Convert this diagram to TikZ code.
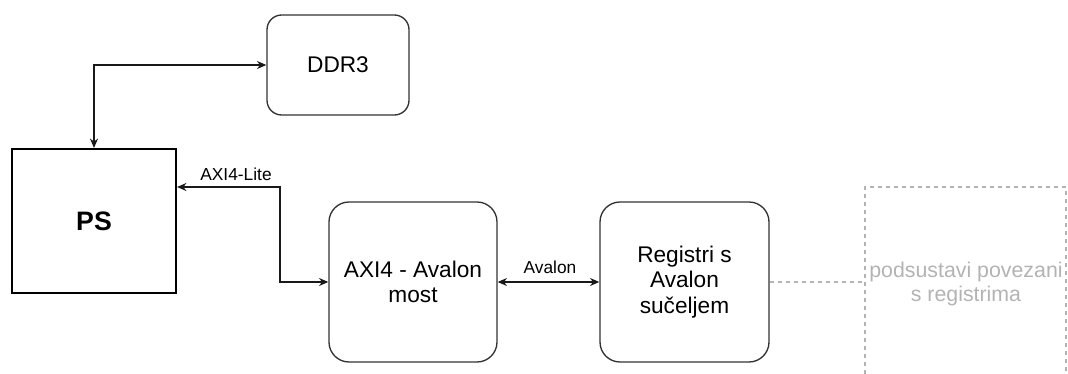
\documentclass[tikz,border=0pt]{standalone}
\usepackage{fontspec}
\setmainfont{Liberation Sans}
\usetikzlibrary{arrows.meta}
\definecolor{faint}{HTML}{B3B3B3}
\tikzset{
  blk/.style={draw=black!80, line width=1pt, rounded corners=15pt, align=center, font=\fontsize{17}{19}\selectfont, inner sep=0pt},
  conn/.style={draw=black!90, line width=1pt, {Stealth[length=7pt,width=6pt]}-{Stealth[length=7pt,width=6pt]}},
  lbl/.style={font=\fontsize{13}{15}\selectfont, anchor=base, inner sep=0pt},
  ghost/.style={draw=faint, line width=0.8pt, dash pattern=on 3pt off 3pt},
}
\begin{document}
\begin{tikzpicture}[x=0.75pt,y=-0.75pt]
\useasboundingbox (0,0) rectangle (1068,374);
\node[blk, rounded corners=11pt, minimum width=106.5pt, minimum height=75pt] (ddr) at (338,65) {DDR3};
\node[draw=black, line width=1.6pt, minimum width=123pt, minimum height=108pt, inner sep=0pt, font=\fontsize{20}{22}\selectfont\bfseries] (ps) at (94,221) {PS};
\node[blk, minimum width=126pt, minimum height=120pt] (axi) at (413,282) {AXI4 - Avalon\\most};
\node[blk, minimum width=126.75pt, minimum height=120pt] (reg) at (684.5,282) {Registri s\\Avalon\\sučeljem};
\node[text=faint, align=center, font=\fontsize{16}{17.5}\selectfont, inner sep=0pt] (sub) at (966,284) {podsustavi povezani\\s registrima};
\coordinate (subw) at (865,282);
% dashed box (partly outside the picture)
\draw[ghost] (865,390) |- (1066,187) -- (1066,390);
\draw[ghost] (reg.east) -- (subw);
% connectors
\draw[conn] (ps.north) |- (ddr.west);
\draw[conn] (ps.east |- 0,187) -| (280,282) -- (axi.west);
\draw[conn] (axi.east) -- (reg.west);
\node[lbl] (litelbl) at (236,181) {AXI4-Lite};
\node[lbl] (avlbl) at (550,273) {Avalon};
\end{tikzpicture}
\end{document}
